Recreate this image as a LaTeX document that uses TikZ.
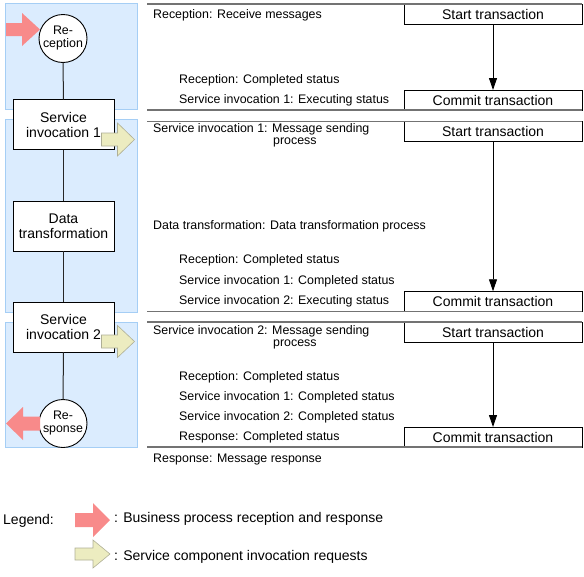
\documentclass[tikz,border=0pt]{standalone}
\usepackage{fontspec}
\setmainfont{Liberation Sans}
\usetikzlibrary{arrows.meta}
\definecolor{panelfill}{RGB}{219,236,254}
\definecolor{paneledge}{RGB}{165,206,245}
\definecolor{redarrow}{RGB}{248,138,138}
\definecolor{yelarrow}{RGB}{236,236,192}
\definecolor{yeledge}{RGB}{175,175,150}
\definecolor{rulegray}{RGB}{115,115,115}
\begin{document}
\begin{tikzpicture}[x=1pt,y=-1pt,
  panel/.style={fill=panelfill,draw=paneledge,line width=1pt},
  procbox/.style={draw=black,fill=white,line width=0.9pt,minimum width=101pt,minimum height=50pt,inner sep=0pt,outer sep=0pt,align=center,font=\fontsize{14}{15}\selectfont},
  endpoint/.style={circle,draw=black,fill=white,line width=0.9pt,minimum size=48pt,inner sep=0pt,outer sep=0pt,align=center,font=\fontsize{12.4}{13}\selectfont},
  txbox/.style={draw=black,fill=white,line width=0.9pt,minimum width=178pt,minimum height=20pt,inner sep=0pt,outer sep=0pt,font=\fontsize{14}{15}\selectfont},
  rule/.style={draw=rulegray,line width=1.8pt},
  lbl/.style={anchor=base west,inner sep=0pt,font=\fontsize{12.4}{14}\selectfont},
  leg/.style={anchor=base west,inner sep=0pt,font=\fontsize{14}{16}\selectfont},
  flow/.style={draw=black,line width=0.9pt,-{Triangle[length=12pt,width=8pt]}},
  link/.style={draw=black!85,line width=1pt},
  redarr/.style={fill=redarrow},
  yelarr/.style={fill=yelarrow,draw=yeledge,line width=0.6pt},
]
\useasboundingbox (0,0) rectangle (584,576);

% panels
\path[panel] (5,3) rectangle (137,109);
\path[panel] (5,119) rectangle (137,312);
\path[panel] (5,322) rectangle (137,447);

% left column nodes
\node[endpoint] (rec) at (63,38.5) {Re-\\ception};
\node[procbox] (s1) at (63.5,124.5) {Service\\invocation 1};
\node[procbox] (dt) at (63.5,226) {Data\\transformation};
\node[procbox] (s2) at (63.5,327) {Service\\invocation 2};
\node[endpoint] (res) at (63,423.5) {Re-\\sponse};
\draw[link] (rec) -- (s1);
\draw[link] (s1) -- (dt);
\draw[link] (dt) -- (s2);
\draw[link] (s2) -- (res);

% block arrows
\path[redarr] (6,23) -- (22,23) -- (22,13) -- (40,29.5) -- (22,46) -- (22,36) -- (6,36) -- cycle;
\path[redarr] (40,416.5) -- (23,416.5) -- (23,407) -- (6,423.5) -- (23,440) -- (23,430.5) -- (40,430.5) -- cycle;
\path[yelarr] (101.5,133) -- (117.5,133) -- (117.5,123) -- (134.5,139.5) -- (117.5,156) -- (117.5,146) -- (101.5,146) -- cycle;
\path[yelarr] (101.5,335) -- (117.5,335) -- (117.5,325.5) -- (134.5,341.5) -- (117.5,357.5) -- (117.5,348) -- (101.5,348) -- cycle;

% transaction boxes
\node[txbox] (st1) at (493,14) {Start transaction};
\node[txbox] (cm1) at (493,100) {Commit transaction};
\node[txbox] (st2) at (493,131.75) {Start transaction};
\node[txbox] (cm2) at (493,301.25) {Commit transaction};
\node[txbox] (st3) at (493,332) {Start transaction};
\node[txbox] (cm3) at (493,437) {Commit transaction};
\draw[flow] (st1) -- (cm1);
\draw[flow] (st2) -- (cm2);
\draw[flow] (st3) -- (cm3);

% rules
\draw[rule] (147,4) -- (582,4);
\draw[rule] (147,110) -- (582,110);
\draw[rule] (147,121.5) -- (582,121.5);
\draw[rule] (147,311.5) -- (582,311.5);
\draw[rule] (147,322) -- (582,322);
\draw[rule] (147,447) -- (582,447);

% labels
\node[lbl] (l1) at (153,18.5) {Reception: Receive messages};
\node[lbl] (l2) at (179,83.5) {Reception: Completed status};
\node[lbl] (l3) at (179,103.5) {Service invocation 1: Executing status};
\node[lbl] (l4) at (153,132.5) {Service invocation 1: Message sending};
\node[lbl] (l4b) at (273,144.5) {process};
\node[lbl] (l5) at (153,229.5) {Data transformation: Data transformation process};
\node[lbl] (l6) at (179,263.5) {Reception: Completed status};
\node[lbl] (l7) at (179,284.5) {Service invocation 1: Completed status};
\node[lbl] (l8) at (179,304.5) {Service invocation 2: Executing status};
\node[lbl] (l9) at (153,334.5) {Service invocation 2: Message sending};
\node[lbl] (l9b) at (273,346.5) {process};
\node[lbl] (l10) at (179,380.5) {Reception: Completed status};
\node[lbl] (l11) at (179,400.5) {Service invocation 1: Completed status};
\node[lbl] (l12) at (179,420.5) {Service invocation 2: Completed status};
\node[lbl] (l13) at (179,440.5) {Response: Completed status};
\node[lbl] (l14) at (153,462) {Response: Message response};

% legend
\node[leg] (lg) at (3,524) {Legend:};
\path[redarr] (75,513) -- (93,513) -- (93,503) -- (110,520) -- (93,537) -- (93,527) -- (75,527) -- cycle;
\path[yelarr] (75,548) -- (93,548) -- (93,540) -- (110,554) -- (93,568) -- (93,560) -- (75,560) -- cycle;
\node[leg] (lg1) at (114,522) {: Business process reception and response};
\node[leg] (lg2) at (114,560) {: Service component invocation requests};
\end{tikzpicture}
\end{document}
